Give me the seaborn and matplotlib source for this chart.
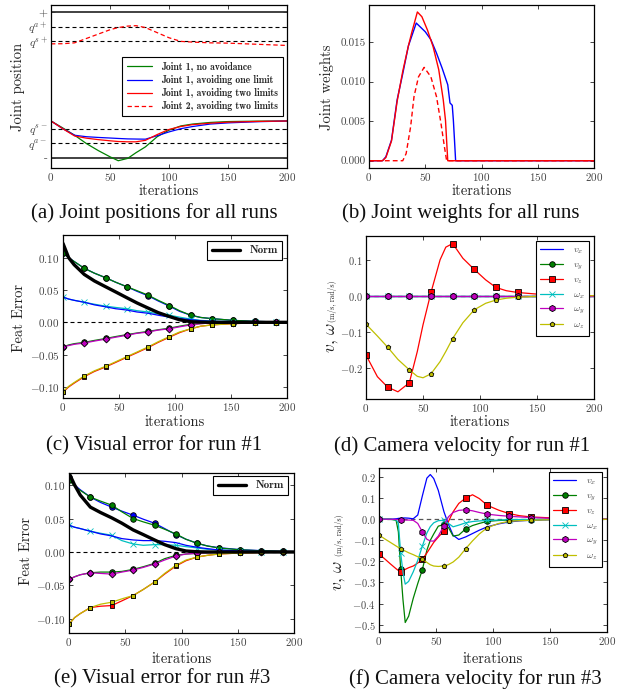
import numpy as np
import pandas as pd
import matplotlib
matplotlib.use('Agg')
import matplotlib.pyplot as plt
from matplotlib.lines import Line2D
import seaborn as sns

# ---------------- (a) joint positions ----------------
a_iters = [0, 10, 20, 30, 40, 50, 57, 65, 72, 80, 90, 100, 110, 120, 135, 150, 175, 200]
a_j1_none = [.253, .205, .155, .098, .05, .007, -.02, -.004, .035, .075, .145, .19, .219, .232, .243, .249, .252, .253]
a_j1_one = [.253, .2, .155, .145, .14, .136, .133, .13, .129, .128, .152, .178, .2, .215, .232, .24, .248, .253]
a_j1_two = [.253, .2, .15, .135, .125, .117, .112, .11, .11, .12, .16, .195, .215, .228, .238, .245, .25, .253]
a_j2_two = [.783, .784, .79, .82, .85, .88, .895, .905, .908, .895, .86, .825, .80, .795, .79, .788, .78, .772]
a_tick_vals = [0, .103, .2, .8, .9, 1.0]
a_tick_labels = ['-', r'$q^{a-}$', r'$q^{s-}$', r'$q^{s+}$', r'$q^{a+}$', '+']

# ---------------- (b) joint weights ----------------
b_one_x = [0, 12, 15, 20, 25, 30, 35, 42, 50, 55, 60, 65, 70, 72, 74, 75, 76, 77, 200]
b_one = [0, 0, .0005, .0026, .0077, .011, .0145, .0174, .0163, .0153, .0136, .0117, .0096, .0073, .0070, .0051, .0026, 0, 0]
b_two_x = [0, 12, 15, 20, 25, 30, 35, 38, 43, 47, 52, 57, 62, 66, 68, 70, 200]
b_two = [0, 0, .0004, .0025, .0075, .0113, .0145, .0162, .0188, .0182, .0165, .0144, .0115, .0077, .0051, 0, 0]
b_j2_x = [0, 30, 33, 37, 40, 44, 49, 55, 60, 64, 67, 69, 200]
b_j2 = [0, 0, .0009, .0043, .0081, .0106, .0118, .0106, .0081, .0047, .0018, 0, 0]

# ---------------- (c) visual error run #1 ----------------
c_iters = [0, 5, 10, 19, 28, 38, 47, 57, 66, 76, 85, 95, 104, 114, 123, 133, 152, 171, 190, 200]
c_norm = [.122, .10, .089, .074, .064, .055, .047, .038, .030, .022, .015, .009, .004, .001, .0003, 0, 0, 0, 0, 0]
c_f1 = [.107, .100, .094, .0835, .076, .069, .062, .055, .048, .041, .033, .025, .017, .011, .0075, .0057, .003, .0015, .0007, .0005]
c_f2 = [.107, .100, .094, .0835, .076, .069, .062, .055, .049, .042, .034, .026, .018, .011, .0075, .0057, .003, .0015, .0007, .0005]
c_f3 = [.039, .036, .034, .031, .028, .025, .023, .021, .018, .016, .013, .011, .008, .005, .003, .002, .001, .0005, .0002, .0001]
c_f4 = [.039, .036, .034, .031, .027, .024, .021, .019, .016, .014, .011, .008, .006, .004, .0025, .0015, .0008, .0004, .0002, .0001]
c_f5 = [-.038, -.035, -.033, -.031, -.028, -.025, -.022, -.019, -.0165, -.014, -.0115, -.009, -.006, -.003, -.002, -.001, -.0005, -.0002, -.0001, 0]
c_f6 = [-.038, -.036, -.034, -.032, -.029, -.026, -.023, -.020, -.017, -.015, -.012, -.010, -.007, -.004, -.002, -.001, -.0005, -.0002, -.0001, 0]
c_f7 = [-.108, -.100, -.094, -.084, -.076, -.069, -.062, -.054, -.047, -.039, -.031, -.023, -.016, -.010, -.006, -.004, -.002, -.001, -.0004, -.0002]
c_f8 = [-.107, -.099, -.093, -.083, -.075, -.068, -.061, -.053, -.046, -.038, -.030, -.022, -.015, -.010, -.006, -.004, -.002, -.001, -.0004, -.0002]

# ---------------- (d) camera velocity run #1 ----------------
d_iters = [0, 10, 19, 28, 38, 45, 50, 57, 65, 70, 76, 85, 95, 105, 114, 123, 133, 152, 171, 190, 200]
d_zero = [0, 0, 0, 0, 0, 0, 0, 0, 0, 0, 0, 0, 0, 0, 0, 0, 0, 0, 0, 0, 0]
d_vz = [-.165, -.225, -.254, -.267, -.242, -.155, -.081, .009, .1, .135, .145, .104, .073, .044, .023, .014, .009, .004, .0015, .0005, .0002]
d_wz = [-.079, -.112, -.143, -.177, -.206, -.224, -.228, -.217, -.183, -.155, -.119, -.075, -.039, -.021, -.012, -.007, -.004, -.0015, -.0005, -.0002, 0]

# ---------------- (e) visual error run #3 ----------------
e_norm = [.118, .10, .085, .067, .059, .051, .043, .033, .026, .018, .011, .005, .0015, .0003, 0, 0, 0, 0, 0, 0]
e_f1 = [.112, .100, .093, .082, .074, .067, .061, .055, .049, .043, .035, .026, .019, .013, .009, .0065, .0035, .002, .001, .0007]
e_f2 = [.108, .098, .092, .082, .076, .070, .060, .050, .045, .040, .034, .027, .019, .013, .009, .006, .0033, .0018, .0009, .0006]
e_f3 = [.040, .037, .035, .031, .028, .025, .017, .012, .010, .011, .011, .010, .008, .006, .004, .003, .0015, .0007, .0003, .0002]
e_f4 = [.040, .037, .035, .031, .027, .024, .020, .018, .017, .017, .016, .014, .010, .007, .005, .003, .0015, .0007, .0003, .0002]
e_f5 = [-.041, -.037, -.034, -.031, -.030, -.030, -.029, -.026, -.022, -.017, -.010, -.005, -.003, -.002, -.001, -.0007, -.0003, -.0001, 0, 0]
e_f6 = [-.041, -.037, -.034, -.031, -.032, -.033, -.030, -.027, -.023, -.018, -.012, -.006, -.003, -.002, -.001, -.0007, -.0003, -.0001, 0, 0]
e_f7 = [-.108, -.098, -.092, -.083, -.081, -.080, -.073, -.065, -.056, -.045, -.033, -.021, -.013, -.0075, -.005, -.003, -.0015, -.0007, -.0003, -.0002]
e_f8 = [-.108, -.098, -.092, -.083, -.078, -.075, -.070, -.065, -.056, -.045, -.032, -.020, -.012, -.0075, -.005, -.003, -.0015, -.0007, -.0003, -.0002]

# ---------------- (f) camera velocity run #3 ----------------
f_iters = [0, 5, 10, 15, 17, 19, 21, 23, 26, 30, 34, 38, 42, 45, 48, 52, 57, 61, 65, 70, 76, 82, 88, 95, 105, 114, 123, 133, 152, 171, 190, 200]
f_vx = [0, 0, 0, .002, .004, .005, .006, .006, .005, .002, .02, .11, .195, .212, .193, .137, .035, -.025, -.076, -.096, -.084, -.068, -.052, -.036, -.022, -.013, -.008, -.005, -.002, -.001, -.0004, -.0002]
f_vy = [0, 0, 0, -.005, -.06, -.237, -.38, -.49, -.46, -.376, -.305, -.24, -.147, -.10, -.07, -.033, -.025, -.04, -.08, -.075, -.046, -.03, -.02, -.01, -.006, -.004, -.003, -.002, -.001, -.0005, -.0002, -.0001]
f_vz = [-.165, -.188, -.212, -.235, -.243, -.25, -.245, -.238, -.23, -.222, -.208, -.19, -.16, -.135, -.11, -.085, -.055, -.01, .035, .075, .1, .116, .098, .066, .043, .027, .017, .011, .006, .003, .001, .0005]
f_wx = [0, 0, 0, -.003, -.02, -.16, -.25, -.308, -.295, -.25, -.195, -.128, -.065, -.035, -.017, -.007, -.005, -.02, -.036, -.028, -.017, -.011, -.008, -.006, -.004, -.002, -.0015, -.001, -.0005, -.0002, -.0001, 0]
f_wy = [0, 0, 0, -.001, -.002, -.003, -.003, -.004, -.004, -.005, -.02, -.06, -.095, -.103, -.104, -.08, -.03, .012, .032, .042, .045, .04, .032, .024, .018, .014, .011, .008, .004, .002, .001, .0005]
f_wz = [-.075, -.093, -.11, -.127, -.134, -.14, -.146, -.151, -.159, -.168, -.178, -.188, -.205, -.216, -.222, -.224, -.222, -.215, -.203, -.18, -.14, -.103, -.07, -.04, -.02, -.01, -.007, -.005, -.002, -.001, -.0004, -.0002]

vel_labels = [r'$v_x$', r'$v_y$', r'$v_z$', r'$\omega_x$', r'$\omega_y$', r'$\omega_z$']
vel_colors = ['b', 'g', 'r', 'c', 'm', 'y']
vel_markers = [None, 'o', 's', 'x', 'h', 'p']

# style
sns.set_style('ticks')
plt.rcParams['font.family'] = 'serif'
plt.rcParams['font.serif'] = ['cmr10', 'DejaVu Serif']
plt.rcParams['mathtext.fontset'] = 'cm'
plt.rcParams['axes.formatter.use_mathtext'] = True
plt.rcParams['axes.edgecolor'] = 'black'
plt.rcParams['axes.linewidth'] = 0.9
plt.rcParams['xtick.direction'] = 'in'
plt.rcParams['ytick.direction'] = 'in'
plt.rcParams['xtick.top'] = True
plt.rcParams['ytick.right'] = True
plt.rcParams['xtick.major.size'] = 3
plt.rcParams['ytick.major.size'] = 3
plt.rcParams['xtick.major.width'] = 0.6
plt.rcParams['ytick.major.width'] = 0.6
plt.rcParams['xtick.major.pad'] = 2
plt.rcParams['ytick.major.pad'] = 2.5
plt.rcParams['xtick.labelsize'] = 8
plt.rcParams['ytick.labelsize'] = 8
plt.rcParams['xtick.labelcolor'] = '#444444'
plt.rcParams['ytick.labelcolor'] = '#444444'
plt.rcParams['axes.labelsize'] = 10.5
plt.rcParams['axes.labelcolor'] = '#222222'

W, H = 629, 691
fig = plt.figure(figsize=(W / 100, H / 100), dpi=100)


def add_box(l, t, r, b):
    return fig.add_axes([l / W, 1 - b / H, (r - l) / W, (b - t) / H])


def to_axes(ax, xpx, ypx):
    p = ax.get_position()
    return (xpx / W - p.x0) / p.width, (1 - ypx / H - p.y0) / p.height


def line(ax, x, y, color, marker=None, marks=None, ms=4, lw=0.9, ls='-', label=None, z=2):
    mec = color if marker == 'x' else 'k'
    sns.lineplot(x=x, y=y, ax=ax, color=color, marker=marker, markevery=marks,
                 markersize=ms, markeredgecolor=mec, markeredgewidth=0.6,
                 linewidth=lw, linestyle=ls, label=label, estimator=None,
                 sort=False, zorder=z)


def finish(ax, xlab_top, ylabel, ylab_right, ylab_mid):
    ax.set_xlim(0, 200)
    ax.set_xticks([0, 50, 100, 150, 200])
    ax.set_xlabel('iterations')
    p = ax.get_position()
    ax.xaxis.set_label_coords(*to_axes(ax, (p.x0 + p.width / 2) * W, xlab_top))
    if ylabel:
        ax.set_ylabel(ylabel)
        ax.yaxis.set_label_coords(*to_axes(ax, ylab_right, ylab_mid))


def frame(leg):
    leg.get_frame().set_edgecolor('black')
    leg.get_frame().set_linewidth(0.8)
    leg.get_frame().set_boxstyle('square', pad=0)


# (a)
ax = add_box(51, 5, 287, 168)
for v in [0, 1.0]:
    ax.axhline(v, color='#333333', lw=1.3, zorder=1)
for v in [.103, .2, .8, .9]:
    ax.axhline(v, color='black', lw=0.8, ls=(0, (3.6, 2.7)), zorder=1)
line(ax, a_iters, a_j1_none, 'g', label='Joint 1, no avoidance')
line(ax, a_iters, a_j1_one, 'b', label='Joint 1, avoiding one limit')
line(ax, a_iters, a_j1_two, 'r', label='Joint 1, avoiding two limits')
line(ax, a_iters, a_j2_two, 'r', ls=(0, (3.5, 2.2)), label='Joint 2, avoiding two limits')
ax.set_ylim(-0.07, 1.05)
ax.set_yticks(a_tick_vals)
ax.set_yticklabels(a_tick_labels)
ax.tick_params(axis='y', labelsize=8.3)
leg = ax.legend(loc='center right', bbox_to_anchor=to_axes(ax, 283, 86.5), borderaxespad=0,
                prop={'family': 'cmb10', 'size': 7}, handlelength=2.6, labelspacing=0.32,
                fancybox=False, framealpha=1, borderpad=0.5, handletextpad=0.9)
frame(leg)
finish(ax, 184, 'Joint position', 25, 87)

# (b)
ax = add_box(369, 5, 594, 168)
line(ax, b_one_x, b_one, 'b', lw=1.0)
line(ax, b_two_x, b_two, 'r', lw=1.0)
line(ax, b_j2_x, b_j2, 'r', lw=1.0, ls=(0, (3.5, 2.2)))
ax.set_ylim(-0.00092, 0.01968)
ax.set_yticks([0, .005, .01, .015])
ax.set_yticklabels(['0.000', '0.005', '0.010', '0.015'])
finish(ax, 184, 'Joint weights', 334, 87)


def feat_panel(ax, norm, f, marks):
    ax.axhline(0, color='black', lw=0.8, ls=(0, (3.6, 2.7)), zorder=1)
    line(ax, c_iters, f[0], 'b', 'o', marks)
    line(ax, c_iters, f[1], 'g', 'o', marks)
    line(ax, c_iters, f[2], 'c', 'x', marks, ms=4.5)
    line(ax, c_iters, f[3], 'b')
    line(ax, c_iters, f[4], 'g', 'o', marks)
    line(ax, c_iters, f[5], 'm', 'D', marks, ms=3.5)
    line(ax, c_iters, f[6], 'r', 's', marks, ms=3.5)
    line(ax, c_iters, f[7], 'y', 's', marks, ms=3.5)
    line(ax, c_iters, norm, 'k', lw=2.4, label='Norm', z=3)


c_marks = [i for i, it in enumerate(c_iters) if it % 19 == 0 and it < 200]

# (c)
ax = add_box(63, 235, 287, 398)
feat_panel(ax, c_norm, [c_f1, c_f2, c_f3, c_f4, c_f5, c_f6, c_f7, c_f8], c_marks)
ax.set_ylim(-0.117, 0.135)
ax.set_yticks([-.1, -.05, 0, .05, .1])
leg = ax.legend(loc='upper right', bbox_to_anchor=to_axes(ax, 282, 241), borderaxespad=0,
                prop={'family': 'cmb10', 'size': 8}, handlelength=2.6, fancybox=False,
                framealpha=1, borderpad=0.4)
frame(leg)
finish(ax, 415, 'Feat Error', 26, 318)

# (e)
ax = add_box(69, 473, 294, 633)
feat_panel(ax, e_norm, [e_f1, e_f2, e_f3, e_f4, e_f5, e_f6, e_f7, e_f8], c_marks)
ax.set_ylim(-0.121, 0.118)
ax.set_yticks([-.1, -.05, 0, .05, .1])
leg = ax.legend(loc='upper right', bbox_to_anchor=to_axes(ax, 288, 476), borderaxespad=0,
                prop={'family': 'cmb10', 'size': 8}, handlelength=2.6, fancybox=False,
                framealpha=1, borderpad=0.4)
frame(leg)
finish(ax, 652, 'Feat Error', 33, 551)


def vel_panel(ax, iters, series, legend_anchor):
    marks = [i for i, it in enumerate(iters) if it % 19 == 0 and it < 200]
    ax.axhline(0, color='#555555', lw=0.9, ls=(0, (3.6, 2.7)), zorder=1)
    sizes = [4, 4, 4, 4.5, 4.5, 3.5]
    for y, c, m, s in zip(series, vel_colors, vel_markers, sizes):
        line(ax, iters, y, c, m, marks if m else None, ms=s)
    handles = [Line2D([], [], color=c, marker=m, markersize=s,
                      markeredgecolor=(c if m == 'x' else 'k'), markeredgewidth=0.6, lw=0.9)
               for c, m, s in zip(vel_colors, vel_markers, sizes)]
    leg = ax.legend(handles, vel_labels, loc='upper right', bbox_to_anchor=to_axes(ax, *legend_anchor),
                    borderaxespad=0, fontsize=7, handlelength=2.3, labelspacing=0.42,
                    fancybox=False, framealpha=1, borderpad=0.5, handletextpad=1.0)
    for t in leg.get_texts():
        t.set_color('#444444')
    frame(leg)


def vel_ylabel(x_base, y_bottom, y_split):
    fig.text(x_base / W, 1 - y_bottom / H, r'$v$, $\omega$', rotation=90, rotation_mode='anchor',
             ha='left', va='baseline', fontsize=12.5, color='#222222')
    fig.text(x_base / W, 1 - y_split / H, '(m/s, rad/s)', rotation=90, rotation_mode='anchor',
             ha='left', va='baseline', fontsize=5.5, color='#222222')


# (d)
ax = add_box(366, 236, 594, 399)
vel_panel(ax, d_iters, [d_zero, d_zero, d_vz, d_zero, d_zero, d_wz], (589, 241))
ax.set_ylim(-0.287, 0.166)
ax.set_yticks([-.2, -.1, 0, .1])
ax.tick_params(axis='y', labelsize=7.5)
finish(ax, 415, None, 0, 0)
vel_ylabel(335, 353, 322)

# (f)
ax = add_box(379, 468, 607, 632)
vel_panel(ax, f_iters, [f_vx, f_vy, f_vz, f_wx, f_wy, f_wz], (602, 472))
ax.set_ylim(-0.535, 0.243)
ax.set_yticks([-.5, -.4, -.3, -.2, -.1, 0, .1, .2])
ax.tick_params(axis='y', labelsize=7.5)
finish(ax, 652, None, 0, 0)
vel_ylabel(342, 591, 556)

# captions
caps = [('(a) Joint positions for all runs', 154, 213),
        ('(b) Joint weights for all runs', 461, 213),
        ('(c) Visual error for run #1', 154, 446),
        ('(d) Camera velocity for run #1', 462, 446),
        ('(e) Visual error for run #3', 162, 679),
        ('(f) Camera velocity for run #3', 475, 679)]
for txt, x, y in caps:
    fig.text(x / W, 1 - y / H, txt, ha='center', va='center', fontsize=15,
             family='Liberation Serif', color='#111111')

plt.savefig('out.png', dpi=100)
